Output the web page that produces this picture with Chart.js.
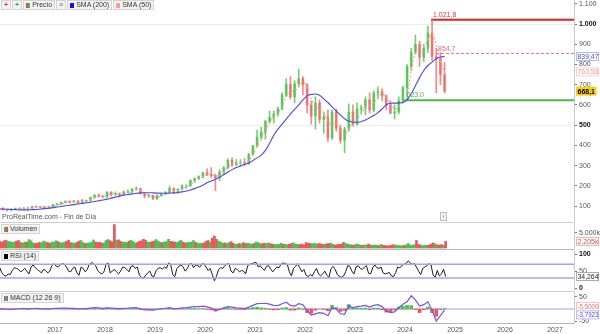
<!DOCTYPE html>
<html>
<head>
<meta charset="utf-8">
<script src="https://cdn.jsdelivr.net/npm/chart.js@4.4.1/dist/chart.umd.min.js"></script>
<style>
body{margin:0;background:#fff;font-family:"Liberation Sans",Arial,sans-serif;}
#wrap{position:relative;width:600px;height:334px;overflow:hidden;background:#fff;}
canvas{position:absolute;left:0;}
.lbl{position:absolute;font-size:7px;line-height:8px;color:#333;background:#f3f3f3;border:1px solid #d4d4d4;padding:0 2px;white-space:nowrap;display:flex;align-items:center;}
.lbl i{display:inline-block;width:4px;height:5px;margin-right:2px;}
.sep{position:absolute;left:0;width:574px;height:1px;background:#cfcfcf;}
#legend{position:absolute;left:1px;top:0;display:flex;gap:1px;}
#legend .lbl{position:static;}
#src{position:absolute;left:2px;top:213px;font-size:7px;color:#555;}
#info{position:absolute;left:440px;top:212px;width:5px;height:7px;border:1px solid #bbb;font-size:6px;line-height:7px;text-align:center;color:#666;background:#f6f6f6;}
</style>
</head>
<body>
<div id="wrap">
  <canvas id="cPrice" width="600" height="222" style="top:0"></canvas>
  <canvas id="cVol" width="600" height="26" style="top:223px"></canvas>
  <canvas id="cRsi" width="600" height="41" style="top:250px"></canvas>
  <canvas id="cMacd" width="600" height="42" style="top:292px"></canvas>
  <div class="sep" style="top:222px"></div>
  <div class="sep" style="top:249px;background:#b8b8b8"></div>
  <div class="sep" style="top:291px"></div>
  <div id="legend">
    <span class="lbl" style="color:#e33;font-weight:bold">+</span>
    <span class="lbl" style="color:#3a3;font-weight:bold">+</span>
    <span class="lbl"><i style="background:linear-gradient(90deg,#e44 50%,#4b4 50%)"></i>Precio</span>
    <span class="lbl" style="color:#666">&#8801;</span>
    <span class="lbl"><i style="background:#1010ee"></i>SMA (200)</span>
    <span class="lbl"><i style="background:#f8a090"></i>SMA (50)</span>
  </div>
  <div id="src">ProRealTime.com - Fin de Día</div>
  <div id="info">i</div>
  <div class="lbl" style="left:1px;top:224px"><i style="background:linear-gradient(90deg,#4b4 50%,#e44 50%)"></i>Volumen</div>
  <div class="lbl" style="left:1px;top:251px"><i style="background:#000"></i>RSI (14)</div>
  <div class="lbl" style="left:1px;top:293px"><i style="background:linear-gradient(90deg,#75f 33%,#4b4 33%,#4b4 66%,#e44 66%)"></i>MACD (12 26 9)</div>
</div>
<script>
// ---- data ----
const months = [
  '2015-11','2015-12',
  '2016-01','2016-02','2016-03','2016-04','2016-05','2016-06','2016-07','2016-08','2016-09','2016-10','2016-11','2016-12',
  '2017-01','2017-02','2017-03','2017-04','2017-05','2017-06','2017-07','2017-08','2017-09','2017-10','2017-11','2017-12',
  '2018-01','2018-02','2018-03','2018-04','2018-05','2018-06','2018-07','2018-08','2018-09','2018-10','2018-11','2018-12',
  '2019-01','2019-02','2019-03','2019-04','2019-05','2019-06','2019-07','2019-08','2019-09','2019-10','2019-11','2019-12',
  '2020-01','2020-02','2020-03','2020-04','2020-05','2020-06','2020-07','2020-08','2020-09','2020-10','2020-11','2020-12',
  '2021-01','2021-02','2021-03','2021-04','2021-05','2021-06','2021-07','2021-08','2021-09','2021-10','2021-11','2021-12',
  '2022-01','2022-02','2022-03','2022-04','2022-05','2022-06','2022-07','2022-08','2022-09','2022-10','2022-11','2022-12',
  '2023-01','2023-02','2023-03','2023-04','2023-05','2023-06','2023-07','2023-08','2023-09','2023-10','2023-11','2023-12',
  '2024-01','2024-02','2024-03','2024-04','2024-05','2024-06','2024-07','2024-08','2024-09','2024-10'
];

const opens = [
  86,90,
  82,81,84,89,87,90,89,98,96,92,96,93,
  107,110,118,124,120,125,114,128,126,143,154,148,
  145,168,158,160,155,170,170,184,186,161,150,152,
  137,152,160,167,187,165,183,200,200,227,235,245,
  264,255,250,240,268,290,326,305,315,316,310,355,
  398,440,465,518,538,555,580,648,702,640,705,730,
  700,600,545,610,528,540,437,565,485,425,480,565,
  505,580,585,625,575,660,665,645,600,560,565,620,
  685,790,860,900,835,880,955,840,830,750
];
const highs = [
  92,91,
  85,88,90,92,92,93,100,100,98,99,99,108,
  112,120,125,126,128,127,133,130,145,156,160,152,
  172,172,170,165,175,180,188,195,188,165,158,154,
  155,165,172,198,190,186,205,205,230,240,250,268,
  284,290,258,280,295,335,340,330,330,335,360,400,
  475,490,525,570,570,590,660,730,740,720,777,740,
  705,620,640,625,565,575,575,580,500,490,605,600,
  610,600,640,660,670,690,680,650,620,600,640,695,
  800,880,945,915,900,990,1021.8,880,860,810
];
const lows = [
  84,80,
  74,75,82,84,84,80,87,94,90,90,89,92,
  104,108,115,114,118,112,113,120,124,140,145,142,
  144,148,152,145,153,165,165,178,158,140,142,132,
  132,148,155,165,160,162,180,188,198,215,230,238,
  250,240,175,225,255,285,295,300,296,300,305,350,
  395,430,430,510,510,545,575,640,630,610,690,650,
  560,505,480,510,460,420,430,470,410,364,470,495,
  500,555,550,560,565,630,620,575,555,530,555,610,
  623,770,850,790,815,860,820,660,700,660
];
const closes = [
  90,82,
  81,84,89,87,90,89,98,96,92,96,93,107,
  110,118,124,120,125,114,128,126,143,154,148,145,
  168,158,160,155,170,170,184,186,161,150,152,137,
  152,160,167,187,165,183,200,200,227,235,245,264,
  255,250,240,268,290,326,305,315,316,310,355,398,
  440,465,518,538,555,580,648,702,640,705,730,700,
  600,545,610,528,540,437,565,485,425,480,565,505,
  580,585,625,575,660,665,645,600,560,565,620,685,
  790,860,900,835,880,955,840,830,750,668.1
];
const sma200 = [
  85,85,
  84,83,82,81,81,81,82,83,85,87,89,92,
  95,98,101,104,107,110,113,116,119,122,126,130,
  134,139,144,149,153,157,160,163,165,166,166,165,
  164,163,163,164,165,167,170,174,179,186,194,203,
  215,224,232,242,255,268,280,290,298,305,313,325,
  338,352,375,410,450,480,505,530,555,578,600,625,
  645,652,654,648,630,612,590,570,550,532,520,515,
  514,518,525,537,548,562,580,600,608,609,610,612,
  625,655,695,735,770,795,812,828,837,839.47
];
const sma50 = [
  86,87,
  84,81,82,86,88,88,90,94,95,94,94,97,
  103,109,116,121,122,120,121,123,130,140,148,149,
  153,160,162,158,160,164,173,180,177,165,155,147,
  144,150,158,168,174,176,185,195,205,220,233,245,
  255,258,248,250,268,290,308,312,314,314,325,355,
  395,432,470,510,540,560,595,640,665,670,690,710,
  690,630,590,580,560,520,505,510,480,455,480,515,
  530,560,590,600,610,640,655,640,610,580,590,620,
  650,770,860,880,885,925,950,900,820,763.58
];
const priceTicks = [100,200,300,400,500,600,700,800,900,1000,1100];
const levelValues = [1021.8, 854.7, 623.0];
const levelStarts = [2024.52, 2024.62, 2023.95];

// two volume / RSI readings per month (thousands)
const volume = [
  1800,2200, 1900,2400,
  2600,2200, 2100,1900, 2000,2300, 2500,1800, 1700,2000, 1900,2800, 2400,1700, 1500,1600, 1900,1700, 2300,2000, 1800,1600, 2000,1900,
  2400,2100, 1800,1700, 1900,2200, 2600,1800, 1700,1600, 1900,2300, 2500,1800, 1500,1600, 1700,1900, 2700,2000, 1800,1900, 1600,1700,
  2500,2800, 2400,2100, 7800,2600, 2700,2200, 1900,2000, 1800,2300, 2600,2100, 1700,1800, 2200,2400, 2900,2600, 2000,1900, 2100,2300,
  2800,2300, 1900,1800, 2000,2100, 2900,2200, 2100,2000, 1800,2200, 2600,1900, 1700,1800, 1900,2000, 2500,1900, 1600,1500, 1600,1700,
  2200,2500, 2000,3300, 4000,2900, 2300,2000, 1600,1700, 1500,1800, 2100,1600, 1200,1300, 1500,1400, 1800,1500, 1600,1400, 1300,1500,
  2000,1800, 1500,1400, 1600,1500, 1700,1400, 1300,1200, 1100,1200, 1600,1300, 1200,1100, 1300,1500, 1700,1300, 1200,1100, 1300,1000,
  1800,1600, 1500,1400, 1600,1300, 1500,1400, 1200,1300, 1400,1500, 1600,1200, 1000,1100, 1200,1300, 1900,1500, 1300,1100, 1000,900,
  1300,1200, 1000,900, 1000,1000, 1300,1000, 900,1000, 900,800, 1200,900, 800,700, 800,900, 1100,1000, 800,800, 700,900,
  1000,1500, 1000,900, 1100,2500, 1200,1000, 800,900, 900,1000, 1300,1700, 1400,1000, 1000,1100, 900,2205
];
const volSides = [
  'ud','dd',
  'du','uu','ud','dd','uu','du','uu','dd','du','uu','dd','uu',
  'ud','uu','ud','dd','uu','dd','uu','du','uu','ud','dd','du',
  'uu','dd','du','dd','uu','ud','uu','ud','dd','dd','uu','dd',
  'uu','ud','uu','ud','dd','uu','ud','du','uu','ud','uu','ud',
  'dd','ud','dd','uu','ud','uu','dd','uu','du','dd','uu','ud',
  'uu','ud','du','ud','du','uu','ud','uu','dd','uu','ud','dd',
  'dd','du','uu','dd','du','dd','uu','dd','dd','du','uu','dd',
  'uu','ud','uu','dd','uu','ud','ud','dd','dd','du','uu','ud',
  'uu','uu','ud','dd','uu','ud','dd','ud','dd','ud'
].join('');
const rsi = [
  55,60, 45,38,
  35,42, 40,52, 60,58, 55,48, 52,58, 50,42, 62,68, 60,55, 50,45, 55,52, 45,50, 66,72,
  65,62, 68,72, 70,62, 50,48, 58,62, 45,38, 62,58, 48,55, 70,75, 72,66, 52,45, 42,48,
  70,74, 45,50, 55,48, 42,50, 62,60, 55,48, 64,66, 58,62, 38,32, 30,38, 45,50, 36,34,
  52,58, 60,56, 62,58, 74,70, 40,34, 58,64, 68,62, 50,58, 70,72, 60,68, 66,62, 70,72,
  62,52, 58,40, 22,35, 55,60, 58,66, 70,72, 50,45, 58,55, 48,52, 50,42, 66,70, 72,74,
  76,62, 66,58, 52,64, 66,56, 48,56, 62,60, 70,74, 72,70, 48,36, 58,64, 72,60, 48,55,
  38,34, 40,36, 48,58, 42,36, 42,50, 38,32, 58,64, 55,40, 35,32, 36,48, 66,64, 50,42,
  62,66, 58,55, 62,66, 44,42, 60,68, 60,58, 62,45, 42,44, 46,36, 34,46, 62,60, 66,70,
  72,80, 74,70, 72,62, 50,40, 58,62, 66,72, 68,38, 32,52, 36,42, 56,34.264
];
const rsiLevels = [70, 30];

// monthly MACD line and histogram
const macd = [
  1,0.5,
  -1,-1.5,0,1,1.2,0.5,2,2.2,1,0.8,0.5,2,
  3,3.5,4,3,2.5,1,2,1.5,4,5.5,4.5,2.5,
  5,4,3,1.5,3,3.5,5,6,1,-3,-4,-5,
  -2,1,3,6,2,2,5,5,8,10,10,12,
  9,4,-6,-3,5,10,8,5,4,2,8,15,
  22,23,24,20,15,14,22,28,15,12,22,18,
  -8,-25,-20,-15,-18,-28,5,0,-20,-22,15,5,
  10,12,15,8,15,18,10,-8,-15,-12,5,20,
  30,55,38,12,18,30,-5,-50,-28,-3.7923
];
const macdHist = [
  0.5,-0.3,
  -1,-0.5,0.8,1,0.5,-0.3,1,0.6,-0.5,-0.5,-0.4,0.8,
  1,0.8,0.7,-0.3,-0.5,-1,0.3,-0.3,1.5,1.8,0.3,-1.2,
  1.5,0.3,-0.5,-1.2,0.5,0.6,1.2,1,-2.5,-4,-2.5,-1.5,
  1,2.5,2.5,3,-1.5,-0.5,1.5,0.5,2,2,1,1.5,
  -1.5,-4,-9,-3,4,5,1,-1.5,-1.5,-2.5,3,6,
  8,5,3,-1.5,-4,-3,4,6,-5,-5,4,-1,
  -15,-18,-5,0,-2,-7,15,6,-10,-6,18,3,
  4,3,4,-3,4,4,-3,-13,-11,-4,8,12,
  15,14,-2,-15,-3,8,-15,-30,-2,1.7
];
const macdSignal = -5.5;
const yearTicks = [2017,2018,2019,2020,2021,2022,2023,2024,2025,2026,2027];

// ---- helpers ----
const X_MIN = 2015.9, X_MAX = 2027.38;
const GREEN = '#4fbf4f', RED = '#e45a5a';
const C_UP = 'rgba(80,195,80,0.8)', C_DOWN = 'rgba(238,100,100,0.75)';
const monthT = months.map(m => { const [y, mo] = m.split('-').map(Number); return y + (mo - 0.5) / 12; });
const halfT = [];
months.forEach(m => { const [y, mo] = m.split('-').map(Number); halfT.push(y + (mo - 0.75) / 12, y + (mo - 0.25) / 12); });

Chart.defaults.font.family = '"Liberation Sans", Arial, sans-serif';
Chart.defaults.font.size = 7;
Chart.defaults.animation = false;

function thousands(v) { return String(v).replace(/\B(?=(\d{3})+(?!\d))/g, '.'); }
function fmt(v, d) {
  const neg = v < 0, parts = Math.abs(v).toFixed(d).split('.');
  return (neg ? '-' : '') + thousands(parts[0]) + (parts[1] ? ',' + parts[1] : '');
}
function isIn(c, list) { return !!(c && c.tick && list.includes(c.tick.value)); }

function xHidden() {
  return { type: 'linear', min: X_MIN, max: X_MAX, offset: false, display: false };
}
function yRight(min, max, ticks, fmtFn, boldVals) {
  return {
    position: 'right', min: min, max: max,
    afterBuildTicks: s => { s.ticks = ticks.map(v => ({ value: v })); },
    afterFit: s => { s.width = 26; s.paddingTop = 0; s.paddingBottom = 0; },
    grid: { drawOnChartArea: false, tickLength: 3, tickColor: '#777' },
    border: { display: true, color: '#c3cbd5' },
    ticks: {
      padding: 2,
      color: c => (isIn(c, boldVals) ? '#111' : '#555'),
      font: c => ({ size: 7, weight: isIn(c, boldVals) ? 'bold' : 'normal' }),
      callback: fmtFn
    }
  };
}
function tag(ctx, x, y, text, o) {
  ctx.save();
  ctx.font = (o.bold ? 'bold ' : '') + '7px "Liberation Sans", Arial';
  const w = Math.min(ctx.measureText(text).width + 3, 599 - x);
  ctx.fillStyle = o.bg || '#fff';
  ctx.fillRect(x, y - 4.5, w, 9);
  if (o.border) { ctx.strokeStyle = o.border; ctx.lineWidth = 1; ctx.strokeRect(x + 0.5, y - 4, w - 1, 8); }
  ctx.fillStyle = o.color;
  ctx.textBaseline = 'middle';
  ctx.fillText(text, x + 1.5, y + 0.5, w - 2);
  ctx.restore();
}
function text(ctx, x, y, s, color) {
  ctx.save();
  ctx.font = '7px "Liberation Sans", Arial';
  ctx.fillStyle = color; ctx.textBaseline = 'middle';
  ctx.fillText(s, x, y);
  ctx.restore();
}
const baseOpts = {
  responsive: false,
  layout: { padding: 0 },
  plugins: { legend: { display: false }, tooltip: { enabled: false } }
};

// ---- price chart ----
const up = closes.map((c, i) => c >= opens[i]);
const levelColors = ['#e32020', '#f07a7a', '#4cb84c'];
const levelDash = [[], [3, 2], []];
const levelWidth = [2, 1, 2];
const levelSets = levelValues.map((v, i) => ({
  type: 'line', data: [{ x: levelStarts[i], y: v }, { x: X_MAX, y: v }],
  borderColor: levelColors[i], borderDash: levelDash[i], borderWidth: levelWidth[i],
  pointRadius: 0, order: 5
}));
const priceY = yRight(21, 1119, priceTicks, v => thousands(v), [500, 1000]);
priceY.grid = { tickLength: 3, tickColor: '#777', color: c => (isIn(c, [500, 1000]) ? '#ededed' : 'rgba(0,0,0,0)') };

new Chart(document.getElementById('cPrice'), {
  type: 'bar',
  data: {
    datasets: [
      { type: 'line', data: monthT.map((t, i) => ({ x: t, y: sma200[i] })), borderColor: '#4848f4',
        borderWidth: 1.1, pointRadius: 0, cubicInterpolationMode: 'monotone', order: 0 },
      { type: 'line', data: monthT.map((t, i) => ({ x: t, y: sma50[i] })), borderColor: '#f5a49a',
        borderWidth: 1.2, borderDash: [2, 2], pointRadius: 0, cubicInterpolationMode: 'monotone', order: 1 },
      { data: monthT.map((t, i) => ({ x: t, y: [opens[i], closes[i]] })), backgroundColor: up.map(u => u ? C_UP : C_DOWN),
        barThickness: 2, grouped: false, order: 2 },
      { data: monthT.map((t, i) => ({ x: t, y: [lows[i], highs[i]] })), backgroundColor: up.map(u => u ? C_UP : C_DOWN),
        barThickness: 1, grouped: false, order: 3 },
      ...levelSets
    ]
  },
  options: Object.assign({}, baseOpts, { scales: { x: xHidden(), y: priceY } }),
  plugins: [{
    id: 'priceTags',
    afterDraw(chart) {
      const ctx = chart.ctx, xs = chart.scales.x, ys = chart.scales.y, r = chart.chartArea.right;
      text(ctx, xs.getPixelForValue(levelStarts[0]) + 2, ys.getPixelForValue(levelValues[0]) - 5, fmt(levelValues[0], 1), '#e04040');
      text(ctx, xs.getPixelForValue(levelStarts[1]) + 2, ys.getPixelForValue(levelValues[1]) - 4, fmt(levelValues[1], 1), '#f06a6a');
      text(ctx, xs.getPixelForValue(levelStarts[2]) + 4, ys.getPixelForValue(levelValues[2]) - 5, fmt(levelValues[2], 1), '#55aa55');
      const last = closes.length - 1;
      tag(ctx, r + 2, ys.getPixelForValue(sma200[last]), fmt(sma200[last], 2), { color: '#4d4dff', border: '#b8b8ff' });
      tag(ctx, r + 2, ys.getPixelForValue(sma50[last]), fmt(sma50[last], 2), { color: '#f79a8a', border: '#fcd0c8' });
      tag(ctx, r + 2, ys.getPixelForValue(closes[last]), fmt(closes[last], 1), { color: '#000', bg: '#f6cf13', bold: true });
    }
  }]
});

// ---- volume ----
new Chart(document.getElementById('cVol'), {
  type: 'bar',
  data: {
    datasets: [{
      data: halfT.map((t, i) => ({ x: t, y: volume[i] })),
      backgroundColor: volume.map((v, i) => volSides[i] === 'u' ? GREEN : RED),
      barThickness: 2, grouped: false
    }]
  },
  options: Object.assign({}, baseOpts, { scales: { x: xHidden(), y: yRight(-333, 8333, [5000], v => thousands(v) + 'k', []) } }),
  plugins: [{
    id: 'volTag',
    afterDraw(chart) {
      const ys = chart.scales.y, v = volume[volume.length - 1];
      tag(chart.ctx, chart.chartArea.right + 2, ys.getPixelForValue(v), thousands(v) + 'k', { color: '#e25252', border: '#f0b0b0' });
    }
  }]
});

// ---- RSI ----
new Chart(document.getElementById('cRsi'), {
  type: 'line',
  data: {
    datasets: [
      ...rsiLevels.map(v => ({ data: [{ x: X_MIN, y: v }, { x: X_MAX, y: v }], borderColor: '#a3a3f2', borderWidth: 1.5, pointRadius: 0 })),
      { data: halfT.map((t, i) => ({ x: t, y: rsi[i] })), borderColor: '#1b1b1b', borderWidth: 1, pointRadius: 0 }
    ]
  },
  options: Object.assign({}, baseOpts, { scales: { x: xHidden(), y: yRight(-7.9, 111.7, [0, 50, 100], v => String(v), [0, 100]) } }),
  plugins: [{
    id: 'rsiTag',
    afterDraw(chart) {
      const ys = chart.scales.y, v = rsi[rsi.length - 1];
      tag(chart.ctx, chart.chartArea.right + 2, ys.getPixelForValue(v), fmt(v, 3), { color: '#222', border: '#aaa' });
    }
  }]
});

// ---- MACD ----
new Chart(document.getElementById('cMacd'), {
  type: 'bar',
  data: {
    datasets: [
      { type: 'line', data: [{ x: X_MIN, y: 0 }, { x: X_MAX, y: 0 }], borderColor: '#a3a3f2', borderWidth: 1.2, pointRadius: 0, order: 2 },
      { type: 'line', data: monthT.map((t, i) => ({ x: t, y: macd[i] })), borderColor: '#7752ee', borderWidth: 1.2, pointRadius: 0, order: 0 },
      { data: monthT.map((t, i) => ({ x: t, y: macdHist[i] })), backgroundColor: macdHist.map(v => v >= 0 ? GREEN : RED),
        barThickness: 3, grouped: false, order: 1 }
    ]
  },
  options: Object.assign({}, baseOpts, {
    scales: {
      x: {
        type: 'linear', min: X_MIN, max: X_MAX, offset: false, position: 'bottom',
        afterBuildTicks: s => { s.ticks = yearTicks.map(v => ({ value: v })); },
        afterFit: s => { s.height = 11; s.paddingLeft = 0; s.paddingRight = 0; },
        grid: { drawOnChartArea: false, drawTicks: false },
        border: { display: true, color: '#b5b5b5' },
        ticks: { padding: 3, color: '#555', maxRotation: 0, autoSkip: false, callback: v => String(v) }
      },
      y: yRight(-58.3, 70.8, [50, -50], v => String(v), [])
    }
  }),
  plugins: [{
    id: 'macdTags',
    afterDraw(chart) {
      const ys = chart.scales.y, r = chart.chartArea.right, v = macd[macd.length - 1];
      tag(chart.ctx, r + 2, ys.getPixelForValue(macdSignal) - 4, fmt(macdSignal, 4), { color: '#f07070', border: '#f5c0c0' });
      tag(chart.ctx, r + 2, ys.getPixelForValue(v) + 5, fmt(v, 4), { color: '#4d4dff', border: '#b8b8ff' });
    }
  }]
});
</script>
</body>
</html>
